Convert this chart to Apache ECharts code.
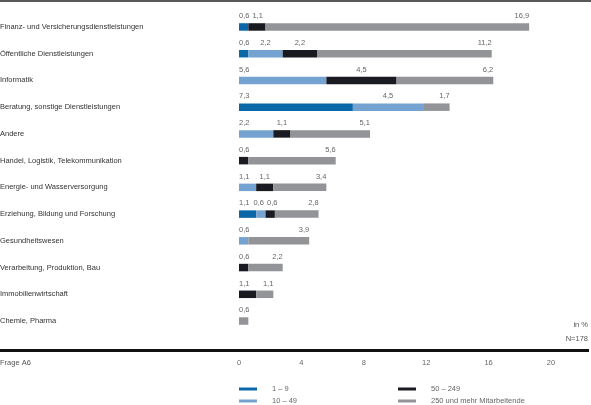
<!DOCTYPE html>
<html><head><meta charset="utf-8">
<script src="https://cdn.jsdelivr.net/npm/echarts@6/dist/echarts.min.js"></script>
<style>html,body{margin:0;padding:0;background:#fff}#c{width:591px;height:405px}</style>
</head><body><div id="c"></div>
<script>
const categories = [
  'Finanz- und Versicherungsdienstleistungen',
  'Öffentliche Dienstleistungen',
  'Informatik',
  'Beratung, sonstige Dienstleistungen',
  'Andere',
  'Handel, Logistik, Telekommunikation',
  'Energie- und Wasserversorgung',
  'Erziehung, Bildung und Forschung',
  'Gesundheitswesen',
  'Verarbeitung, Produktion, Bau',
  'Immobilienwirtschaft',
  'Chemie, Pharma'
];
const seriesNames = ['1 – 9', '10 – 49', '50 – 249', '250 und mehr Mitarbeitende'];
const s1to9    = [0.6, 0.6, 0,   7.3, 0,   0,   0,   1.1, 0,   0,   0,   0];
const s10to49  = [0,   2.2, 5.6, 4.5, 2.2, 0,   1.1, 0.6, 0.6, 0,   0,   0];
const s50to249 = [1.1, 2.2, 4.5, 0,   1.1, 0.6, 1.1, 0.6, 0,   0.6, 1.1, 0];
const s250plus = [16.9,11.2,6.2, 1.7, 5.1, 5.6, 3.4, 2.8, 3.9, 2.2, 1.1, 0.6];
const xTicks = [0, 4, 8, 12, 16, 20];

const allSeries = [s1to9, s10to49, s50to249, s250plus];
const colors = ['#0a68a8', '#75a3d1', '#1a1a22', '#939498'];
const FONT = 'Liberation Sans, Arial, sans-serif';
const LABEL_SIZE = 7.5;

function fmt(v){ return v.toFixed(1).replace('.', ','); }

// label offsets (px) computed after first layout to avoid overlaps
const offsets = allSeries.map(s => s.map(() => 0));

function roleOf(si, ri){
  const nz = allSeries.map((s, k) => s[ri] ? k : -1).filter(k => k >= 0);
  if (si === nz[0]) return 'first';
  if (si === nz[nz.length - 1]) return 'last';
  return 'mid';
}

function buildData(si){
  return allSeries[si].map((v, ri) => {
    if (!v) return { value: 0, label: { show: false } };
    const role = roleOf(si, ri);
    let pos, align;
    if (role === 'first') { pos = [0, -7]; align = 'left'; }
    else if (role === 'last') { pos = ['100%', -7]; align = 'right'; }
    else { pos = ['50%', -7]; align = 'center'; }
    return { value: v, label: { show: true, position: pos, align: align, verticalAlign: 'middle', offset: [offsets[si][ri], 0] } };
  });
}

const legendBase = {
  orient: 'vertical', top: 384, width: 200, height: 24, padding: 0,
  itemWidth: 18, itemHeight: 3, itemGap: 2, icon: 'rect',
  textStyle: { fontSize: 7.5, color: '#666', fontFamily: FONT, lineHeight: 10, padding: [0, 0, 0, 10] }
};

function buildSeries(){
  return seriesNames.map((name, si) => ({
    name: name, type: 'bar', stack: 'total', barWidth: 7.5,
    itemStyle: { color: colors[si] },
    label: { color: '#666', fontSize: LABEL_SIZE, fontFamily: FONT, formatter: p => fmt(p.value) },
    data: buildData(si)
  }));
}

const chart = echarts.init(document.getElementById('c'), null, { renderer: 'canvas' });
chart.setOption({
  animation: false,
  textStyle: { fontFamily: FONT },
  grid: { left: 239, right: 40, top: 13.6, bottom: 70.6, containLabel: false, outerBoundsMode: 'none' },
  xAxis: {
    type: 'value', min: xTicks[0], max: xTicks[xTicks.length - 1], interval: 4,
    axisLine: { show: false }, axisTick: { show: false }, splitLine: { show: false },
    axisLabel: { margin: 25, color: '#666', fontSize: 7.5, fontFamily: FONT }
  },
  yAxis: {
    type: 'category', data: categories, inverse: true,
    axisLine: { show: false }, axisTick: { show: false },
    axisLabel: { align: 'left', margin: 239, color: '#333', fontSize: 7.5, fontFamily: FONT }
  },
  legend: [
    Object.assign({}, legendBase, { data: seriesNames.slice(0, 2), left: 239 }),
    Object.assign({}, legendBase, { data: seriesNames.slice(2, 4), left: 398 })
  ],
  title: [
    { text: 'in %', right: 3, top: 321, textStyle: { fontSize: 7.5, color: '#555', fontWeight: 'normal', fontFamily: FONT }, padding: 0 },
    { text: 'N=178', right: 3, top: 335, textStyle: { fontSize: 7.5, color: '#555', fontWeight: 'normal', fontFamily: FONT }, padding: 0 },
    { text: 'Frage A6', left: 0, top: 359, textStyle: { fontSize: 7.5, color: '#555', fontWeight: 'normal', fontFamily: FONT }, padding: 0 }
  ],
  graphic: [
    { type: 'rect', shape: { x: 0, y: 0, width: 591, height: 2 }, style: { fill: '#5a5a5a' }, silent: true },
    { type: 'rect', shape: { x: 0, y: 349, width: 589, height: 3 }, style: { fill: '#111' }, silent: true }
  ],
  series: buildSeries()
});

// overlap avoidance among value labels in each row
(function(){
  const ctx = document.createElement('canvas').getContext('2d');
  ctx.font = LABEL_SIZE + 'px ' + FONT;
  const GAP = 3;
  categories.forEach((c, ri) => {
    let cum = 0;
    const labs = [];
    allSeries.forEach((s, si) => {
      const v = s[ri];
      if (!v) return;
      const x0 = chart.convertToPixel({ gridIndex: 0 }, [cum, ri])[0];
      const x1 = chart.convertToPixel({ gridIndex: 0 }, [cum + v, ri])[0];
      cum += v;
      const w = ctx.measureText(fmt(v)).width;
      const role = roleOf(si, ri);
      let l;
      if (role === 'first') l = x0;
      else if (role === 'last') l = x1 - w;
      else l = (x0 + x1) / 2 - w / 2;
      labs.push({ si, l, r: l + w, fixed: role !== 'mid', dx: 0 });
    });
    for (let i = 1; i < labs.length; i++) {
      const a = labs[i - 1], b = labs[i];
      const need = a.r + GAP - b.l;
      if (need > 0) {
        if (a.fixed && b.fixed) continue;
        let da = 0, db = 0;
        if (a.fixed) db = need;
        else if (b.fixed) da = -need;
        else { da = -need / 2; db = need / 2; }
        a.dx += da; a.l += da; a.r += da;
        b.dx += db; b.l += db; b.r += db;
      }
    }
    labs.forEach(L => { offsets[L.si][ri] = L.dx; });
  });
  chart.setOption({ series: buildSeries() });
})();
</script></body></html>
